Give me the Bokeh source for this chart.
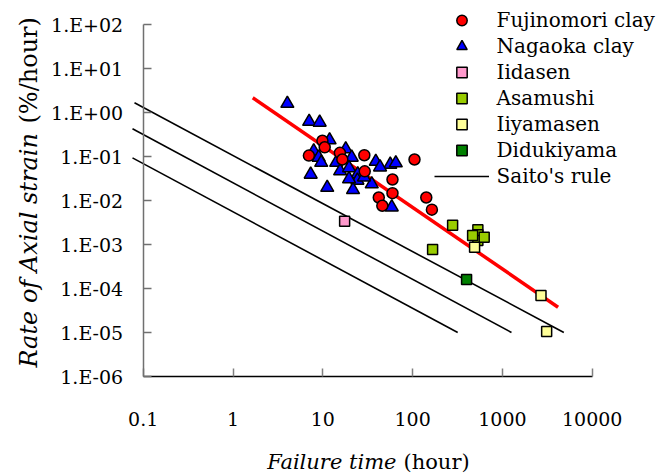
import math
from bokeh.plotting import figure
from bokeh.models import Legend, LegendItem, Label, FixedTicker, Range1d
from bokeh.embed import file_html
from bokeh.resources import INLINE

# ---------------- data ----------------
fuji_t = [7.0, 9.9, 10.5, 15.5, 16.5, 29.0, 29.3, 59.7, 59.7, 42.0, 46.0, 105.0, 142.0, 164.0]
fuji_r = [0.105, 0.228, 0.162, 0.121, 0.0855, 0.107, 0.046, 0.030, 0.0147, 0.0117, 0.0076, 0.0855, 0.0117, 0.0062]

naga_t = [4.03, 7.05, 9.23, 11.9, 7.92, 9.0, 9.6, 7.33, 11.2, 18.0, 14.1, 21.0, 15.6, 19.6,
          24.5, 24.3, 19.6, 35.1, 21.7, 38.9, 56.4, 65.0, 58.6, 28.8, 43.4]
naga_r = [1.60, 0.624, 0.593, 0.237, 0.132, 0.095, 0.073, 0.039, 0.0197, 0.148, 0.073, 0.095, 0.0468, 0.0548,
          0.040, 0.0285, 0.0308, 0.0237, 0.0175, 0.0769, 0.0658, 0.0711, 0.00705, 0.0339, 0.0571]

iida_t = [17.5]
iida_r = [0.00339]

asa_t = [279.0, 167.0, 533.0, 533.0, 533.0, 466.0, 627.0]
asa_r = [0.00275, 0.00077, 0.00216, 0.00166, 0.00123, 0.00160, 0.00147]

iiya_t = [490.0, 2690.0, 3110.0]
iiya_r = [0.00087, 6.93e-5, 1.05e-5]

didu_t = [399.0]
didu_r = [1.6e-4]

fit_t = [1.66, 4170.0]
fit_r = [2.16, 3.76e-5]

saito_t = [[0.080, 4830.0], [0.076, 1262.0], [0.076, 318.0]]
saito_r = [[1.66, 1e-5], [0.427, 1e-5], [0.093, 1e-5]]

series_names = ["Fujinomori clay", "Nagaoka clay", "Iidasen", "Asamushi", "Iiyamasen", "Didukiyama", "Saito's rule"]

x_ticks = [0.1, 1, 10, 100, 1000, 10000]
x_labels = ["0.1", "1", "10", "100", "1000", "10000"]
y_ticks = [1e-6, 1e-5, 1e-4, 1e-3, 1e-2, 1e-1, 1e0, 1e1, 1e2]
y_labels = ["1.E-06", "1.E-05", "1.E-04", "1.E-03", "1.E-02", "1.E-01", "1.E+00", "1.E+01", "1.E+02"]

FONT = "DejaVu Serif"

W, H = 669, 475
AX_X, AX_Y = 142.7, 376.0      # pixel position of the axis corner
DEC_X, DEC_Y = 89.8, 44.0      # pixels per decade

x0 = 10 ** (-1 - AX_X / DEC_X)
x1 = 10 ** (-1 + (W - AX_X) / DEC_X)
y1 = 10 ** (-6 + AX_Y / DEC_Y)
y0 = 10 ** (-6 - (H - AX_Y) / DEC_Y)

p = figure(width=W, height=H, x_axis_type="log", y_axis_type="log",
           x_range=Range1d(x0, x1), y_range=Range1d(y0, y1),
           output_backend="svg", toolbar_location=None, min_border=0)
p.outline_line_color = None
p.xgrid.visible = False
p.ygrid.visible = False
p.background_fill_color = "white"
p.border_fill_color = "white"

xa = p.xaxis[0]
xa.fixed_location = 1e-6
xa.ticker = FixedTicker(ticks=x_ticks, minor_ticks=[])
xa.bounds = (0.1, 10000)
xa.major_label_overrides = {t: l for t, l in zip(x_ticks, x_labels)}
xa.major_tick_in = 8
xa.major_tick_out = 0
xa.minor_tick_line_color = None
xa.axis_line_color = "black"
xa.axis_line_width = 1.5
xa.major_tick_line_color = "#808080"
xa.major_tick_line_width = 1.5
xa.major_label_text_font = FONT
xa.major_label_text_font_size = "19px"
xa.major_label_text_color = "black"
xa.major_label_standoff = 35

ya = p.yaxis[0]
ya.fixed_location = 0.1
ya.ticker = FixedTicker(ticks=y_ticks, minor_ticks=[])
ya.bounds = (1e-6, 1e2)
ya.major_label_overrides = {t: l for t, l in zip(y_ticks, y_labels)}
ya.major_tick_in = 8
ya.major_tick_out = 0
ya.minor_tick_line_color = None
ya.axis_line_color = "#707070"
ya.axis_line_width = 1.5
ya.major_tick_line_color = "#707070"
ya.major_tick_line_width = 1.5
ya.major_label_text_font = FONT
ya.major_label_text_font_size = "19px"
ya.major_label_text_color = "black"
ya.major_label_standoff = 20

# ---------------- lines ----------------
saito = p.multi_line(saito_t, saito_r, line_color="black", line_width=1.6)
fit = p.line(fit_t, fit_r, line_color="#FF0000", line_width=3.5)

# ---------------- markers ----------------
naga = p.scatter(naga_t, naga_r, marker="triangle", size=13, fill_color="#0000FF",
                 line_color="black", line_width=1.5)
fuji = p.scatter(fuji_t, fuji_r, marker="circle", size=11, fill_color="#FF0000",
                 line_color="black", line_width=1.5)
iida = p.scatter(iida_t, iida_r, marker="square", size=10, fill_color="#FF99CC",
                 line_color="black", line_width=1.5)
asa = p.scatter(asa_t, asa_r, marker="square", size=10, fill_color="#99CC00",
                line_color="black", line_width=1.5)
iiya = p.scatter(iiya_t, iiya_r, marker="square", size=10, fill_color="#FFFF99",
                 line_color="black", line_width=1.5)
didu = p.scatter(didu_t, didu_r, marker="square", size=10, fill_color="#008000",
                 line_color="black", line_width=1.5)

# legend: Bokeh draws the glyph samples, serif names are drawn as labels beside them
ROW_H = 26
LEG_TOP = 6.5
LEG_LEFT = 434
GLYPH_W = 55
legend_renderers = [fuji, naga, iida, asa, iiya, didu, saito]
legend = Legend(items=[LegendItem(label=" ", renderers=[r]) for r in legend_renderers],
                location=(LEG_LEFT, H - (LEG_TOP + ROW_H * len(legend_renderers))))
legend.glyph_width = GLYPH_W
legend.glyph_height = ROW_H
legend.label_height = ROW_H
legend.label_width = 1
legend.label_standoff = 0
legend.spacing = 0
legend.padding = 0
legend.margin = 0
legend.border_line_color = None
legend.background_fill_alpha = 0
legend.label_text_font_size = "8px"
p.add_layout(legend)

for i, name in enumerate(series_names):
    yc = LEG_TOP + ROW_H * (i + 0.5)
    p.add_layout(Label(x=LEG_LEFT + GLYPH_W + 7, y=H - yc, x_units="screen", y_units="screen",
                       text=name, text_font=FONT, text_font_size="20px",
                       text_align="left", text_baseline="middle", text_color="black"))

# ---------------- axis titles ----------------
p.add_layout(Label(x=396, y=14, x_units="screen", y_units="screen", text="Failure time",
                   text_font=FONT, text_font_style="italic", text_font_size="21px",
                   text_align="right", text_baseline="alphabetic", text_color="black"))
p.add_layout(Label(x=403, y=14, x_units="screen", y_units="screen", text="(hour)",
                   text_font=FONT, text_font_size="21px",
                   text_align="left", text_baseline="alphabetic", text_color="black"))

p.add_layout(Label(x=28, y=108, x_units="screen", y_units="screen", text="Rate of Axial strain",
                   angle=math.pi / 2, text_font=FONT, text_font_style="italic", text_font_size="24px",
                   text_align="left", text_baseline="middle", text_color="black"))
p.add_layout(Label(x=28, y=352, x_units="screen", y_units="screen", text="(%/hour)",
                   angle=math.pi / 2, text_font=FONT, text_font_size="24px",
                   text_align="left", text_baseline="middle", text_color="black"))

open("out.html", "w").write(file_html(p, INLINE))
